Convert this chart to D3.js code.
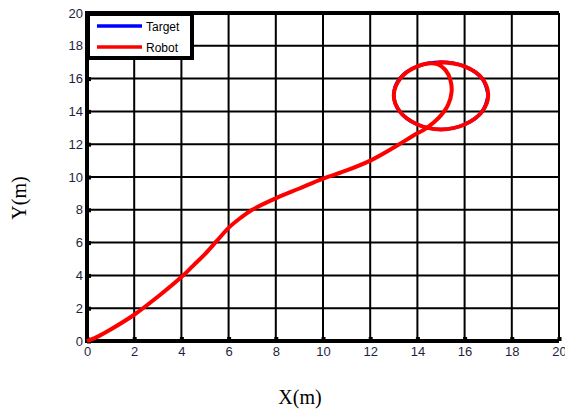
<!DOCTYPE html>
<html>
<head>
<meta charset="utf-8">
<script src="https://cdn.jsdelivr.net/npm/d3@7"></script>
<style>
body { margin: 0; background: #fff; }
</style>
</head>
<body>
<div id="chart"></div>
<script>
// robot trajectory
var robotX = [0, 0.5, 1, 2, 3, 4, 4.5, 5, 5.5, 6, 6.5, 7, 8, 9, 10, 11, 12, 13, 13.8, 14.4, 14.9, 15.3, 15.45, 15.4, 15.2, 14.8,
              14.0, 13.3, 13.0, 13.25, 14.0, 15.0, 16.0, 16.75, 17.0, 16.75, 16.0, 15.0, 14.8];
var robotY = [0, 0.3, 0.7, 1.6, 2.7, 3.9, 4.6, 5.3, 6.1, 6.9, 7.5, 8.0, 8.7, 9.3, 9.9, 10.4, 11.0, 11.8, 12.5, 13.0, 13.6, 14.4, 15.2, 15.9, 16.5, 16.9,
              16.75, 16.05, 15.0, 14.0, 13.2, 12.9, 13.2, 14.0, 15.0, 16.0, 16.75, 17.0, 16.95];
// target circle (mostly hidden below the robot line)
var targetX = [17.0, 16.75, 16.0, 15.0, 14.0, 13.25, 13.0, 13.25, 14.0, 15.0, 16.0, 16.75, 17.0];
var targetY = [15.0, 16.0, 16.75, 17.0, 16.75, 16.0, 15.0, 14.0, 13.2, 12.9, 13.2, 14.0, 15.0];
var xTicks = [0, 2, 4, 6, 8, 10, 12, 14, 16, 18, 20];
var yTicks = [0, 2, 4, 6, 8, 10, 12, 14, 16, 18, 20];
var seriesNames = ["Target", "Robot"];
var seriesColors = ["#0000ff", "#ff0000"];

var margin = {top: 13, bottom: 71, left: 87, right: 6};
var width = 565 - margin.left - margin.right;
var height = 412 - margin.top - margin.bottom;

var svg = d3.select("#chart")
    .append("svg")
    .attr("width", 565)
    .attr("height", 412)
    .append("g")
    .attr("transform", "translate(" + margin.left + "," + margin.top + ")");

var x = d3.scaleLinear().domain([0, 20]).range([0, width]);
var y = d3.scaleLinear().domain([0, 20]).range([height, 0]);

// grid
svg.append("g").selectAll("line.vx")
    .data(xTicks)
    .enter().append("line")
    .attr("x1", d => x(d)).attr("x2", d => x(d))
    .attr("y1", 0).attr("y2", height)
    .attr("stroke", "#000").attr("stroke-width", 2);
svg.append("g").selectAll("line.hy")
    .data(yTicks)
    .enter().append("line")
    .attr("x1", 0).attr("x2", width)
    .attr("y1", d => y(d)).attr("y2", d => y(d))
    .attr("stroke", "#000").attr("stroke-width", 2);

// axes
var xAxis = d3.axisBottom(x).tickValues(xTicks).tickSize(-4).tickPadding(6).tickFormat(d3.format("d"));
var yAxis = d3.axisLeft(y).tickValues(yTicks).tickSize(-4).tickPadding(4).tickFormat(d3.format("d"));

svg.append("g")
    .attr("class", "x-axis")
    .attr("transform", "translate(0," + height + ")")
    .call(xAxis);
svg.append("g")
    .attr("class", "y-axis")
    .call(yAxis);

svg.selectAll(".domain").remove();
svg.selectAll(".tick line").attr("stroke", "#000").attr("stroke-width", 4);
svg.selectAll(".tick text")
    .attr("fill", "#1f1f3f")
    .attr("font-family", "Liberation Sans, Arial, sans-serif")
    .attr("font-size", 13);

// frame
svg.append("line").attr("x1", 0).attr("x2", width).attr("y1", 0).attr("y2", 0)
    .attr("stroke", "#000").attr("stroke-width", 4);
svg.append("line").attr("x1", 0).attr("x2", width).attr("y1", height).attr("y2", height)
    .attr("stroke", "#000").attr("stroke-width", 4);
svg.append("line").attr("x1", 0).attr("x2", 0).attr("y1", -2).attr("y2", height + 2)
    .attr("stroke", "#000").attr("stroke-width", 4);
svg.append("line").attr("x1", width).attr("x2", width).attr("y1", 0).attr("y2", height)
    .attr("stroke", "#000").attr("stroke-width", 2);

// lines
var line = d3.line()
    .x(d => x(d[0]))
    .y(d => y(d[1]))
    .curve(d3.curveCatmullRom.alpha(0.5));

svg.append("path")
    .datum(d3.zip(targetX, targetY))
    .attr("d", line)
    .attr("fill", "none")
    .attr("stroke", seriesColors[0])
    .attr("stroke-width", 3.5);

svg.append("path")
    .datum(d3.zip(robotX, robotY))
    .attr("d", line)
    .attr("fill", "none")
    .attr("stroke", seriesColors[1])
    .attr("stroke-width", 4)
    .attr("stroke-linejoin", "round");

// legend
var legend = svg.append("g").attr("transform", "translate(1,1)");
legend.append("rect")
    .attr("x", 0).attr("y", 0)
    .attr("width", 104).attr("height", 44)
    .attr("fill", "#fff")
    .attr("stroke", "#000")
    .attr("stroke-width", 4);
seriesNames.forEach(function(name, i) {
    legend.append("line")
        .attr("x1", 9).attr("x2", 54)
        .attr("y1", 12 + i * 21).attr("y2", 12 + i * 21)
        .attr("stroke", seriesColors[i])
        .attr("stroke-width", 3.5);
    legend.append("text")
        .attr("x", 58)
        .attr("y", 17 + i * 21)
        .attr("font-family", "Liberation Sans, Arial, sans-serif")
        .attr("font-size", 12)
        .attr("fill", "#000")
        .text(name);
});

// axis titles
svg.append("text")
    .attr("x", 213)
    .attr("y", height + 63)
    .attr("text-anchor", "middle")
    .attr("font-family", "Liberation Serif, Times New Roman, serif")
    .attr("font-size", 20)
    .text("X(m)");
svg.append("text")
    .attr("transform", "translate(" + (-61) + "," + 185 + ") rotate(-90)")
    .attr("text-anchor", "middle")
    .attr("font-family", "Liberation Serif, Times New Roman, serif")
    .attr("font-size", 20)
    .text("Y(m)");
</script>
</body>
</html>
